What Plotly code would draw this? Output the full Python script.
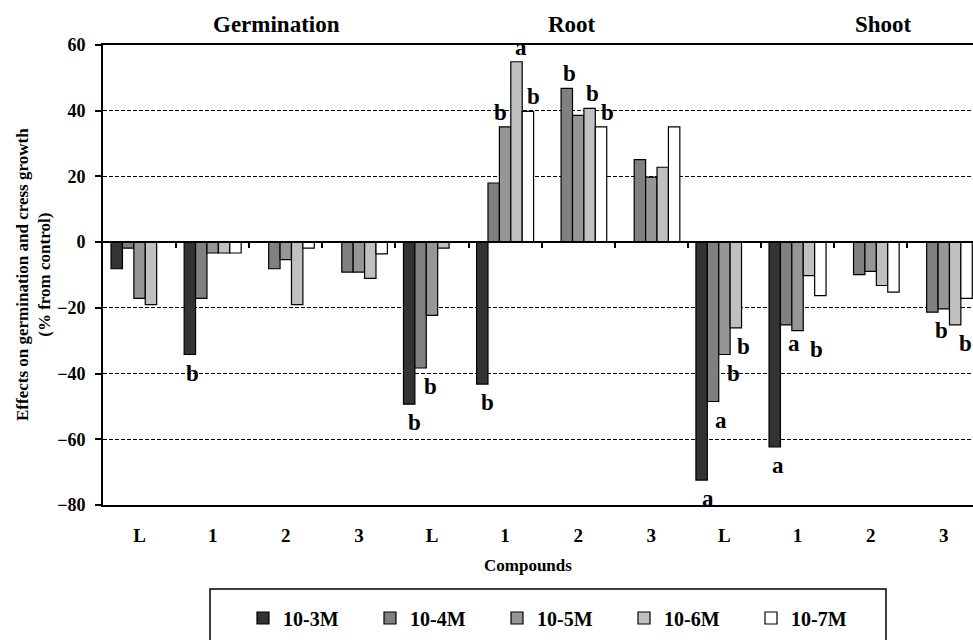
import plotly.graph_objects as go

# ---------------- data ----------------
categories = ["L", "1", "2", "3", "L", "1", "2", "3", "L", "1", "2", "3"]
sections = ["Germination", "Root", "Shoot"]
series_names = ["10-3M", "10-4M", "10-5M", "10-6M", "10-7M"]

v_1e3 = [-8.1, -34.2, None, None, -49.3, -43.2, None, None, -72.4, -62.3, None, None]
v_1e4 = [-1.8, -17.1, -8.1, -9.1, -38.3, 18.0, 46.8, 25.1, -48.5, -25.2, -9.9, -21.3]
v_1e5 = [-17.1, -3.3, -5.3, -9.1, -22.3, 35.1, 38.6, 19.8, -34.2, -26.9, -8.9, -20.3]
v_1e6 = [-19.0, -3.3, -19.0, -11.0, -1.8, 54.9, 40.7, 22.8, -26.1, -10.2, -13.2, -25.2]
v_1e7 = [None, -3.3, -1.8, -3.6, None, 39.8, 35.1, 35.1, None, -16.3, -15.2, -17.1]

# significance letters: (group index, series index, letter)
sig_labels = [
    (1, 0, "b"),
    (4, 0, "b"), (4, 1, "b"),
    (5, 0, "b"), (5, 2, "b"), (5, 3, "a"), (5, 4, "b"),
    (6, 1, "b"), (6, 3, "b"), (6, 4, "b"),
    (8, 0, "a"), (8, 1, "a"), (8, 2, "b"), (8, 3, "b"),
    (9, 0, "a"), (9, 1, "a"), (9, 2, "b"),
    (11, 1, "b"), (11, 3, "b"),
]
# horizontal nudges (px) of the letters, styling only
sig_dx = [3, 5, 10, 5, -5, 4, 6, 3, 3, 6, 6, 8, 9, 8, 3, 8, 19, 9, 10]

# ---------------- style ----------------
FONT = "Liberation Serif"
colors = ["#333333", "#808080", "#969696", "#c0c0c0", "#ffffff"]
all_values = [v_1e3, v_1e4, v_1e5, v_1e6, v_1e7]
BARGAP = 0.22
NSER = len(series_names)
bw = (1 - BARGAP) / NSER

xs = list(range(len(categories)))
fig = go.Figure()
for name, vals, col in zip(series_names, all_values, colors):
    fig.add_trace(go.Bar(
        x=xs, y=vals, name=name,
        marker=dict(color=col, line=dict(color="#000000", width=1.2)),
    ))

# dummy trace for the zero-crossing axis with tick marks
fig.add_trace(go.Scatter(x=[], y=[], xaxis="x2", showlegend=False, hoverinfo="skip"))

x_range = [-0.5, 11.4]
annotations = []
for (g, s, letter), dx in zip(sig_labels, sig_dx):
    v = all_values[s][g]
    xpos = g + (s - (NSER - 1) / 2) * bw
    if v < 0:
        annotations.append(dict(x=xpos, y=v, text=letter, showarrow=False,
                                xanchor="center", yanchor="top", yshift=-4, xshift=dx,
                                font=dict(family=FONT, size=23, color="#000", weight="bold")))
    else:
        annotations.append(dict(x=xpos, y=v, text=letter, showarrow=False,
                                xanchor="center", yanchor="bottom", yshift=0, xshift=dx,
                                font=dict(family=FONT, size=23, color="#000", weight="bold")))

# section titles
for title, xp in zip(sections, [1.87, 5.92, 10.17]):
    annotations.append(dict(x=xp, xref="x", y=1.045, yref="paper", text=title,
                            showarrow=False, xanchor="center", yanchor="middle",
                            font=dict(family=FONT, size=23, color="#000", weight="bold")))

# axis titles
annotations.append(dict(x=(528 - 103) / 870, xref="paper", y=(505 - 565) / 460, yref="paper",
                        text="Compounds", showarrow=False, xanchor="center", yanchor="middle",
                        font=dict(family=FONT, size=17, color="#000", weight="bold")))
annotations.append(dict(x=(33 - 103) / 870, xref="paper", y=0.5, yref="paper",
                        text="Effects on germination and cress growth<br>(% from control)",
                        textangle=-90, showarrow=False, xanchor="center", yanchor="middle",
                        font=dict(family=FONT, size=17, color="#000", weight="bold")))

fig.update_layout(
    width=973, height=640,
    margin=dict(l=103, r=0, t=45, b=135, pad=0, autoexpand=False),
    paper_bgcolor="white", plot_bgcolor="white",
    barmode="group", bargap=BARGAP, bargroupgap=0,
    font=dict(family=FONT, color="#000"),
    xaxis=dict(
        range=x_range, tickmode="array", tickvals=xs, ticktext=categories,
        showline=True, mirror=True, linecolor="#000", linewidth=1.5,
        ticks="", showgrid=False, zeroline=False, ticklabelstandoff=12,
        tickfont=dict(family=FONT, size=19, color="#000", weight="bold"),
    ),
    xaxis2=dict(
        range=x_range, overlaying="x", anchor="free", position=80 / 140, side="bottom",
        tickmode="array", tickvals=[i + 0.5 for i in range(11)],
        ticks="outside", ticklen=5, tickwidth=1.5, tickcolor="#000",
        showticklabels=False, showline=True, linecolor="#000", linewidth=2,
        showgrid=False, zeroline=False,
    ),
    yaxis=dict(
        range=[-80, 60], tickmode="linear", tick0=-80, dtick=20,
        showline=True, linecolor="#000", linewidth=2,
        ticks="outside", ticklen=6, tickwidth=1.5, tickcolor="#000",
        showgrid=True, gridcolor="#000", gridwidth=1, griddash="4px,2px",
        zeroline=False, ticklabelstandoff=6,
        tickfont=dict(family=FONT, size=18, color="#000", weight="bold"),
    ),
    legend=dict(
        orientation="h", x=(243 - 103) / 870, xanchor="left",
        y=(505 - 618) / 460, yanchor="middle",
        entrywidth=82, entrywidthmode="pixels",
        bgcolor="rgba(0,0,0,0)", borderwidth=0,
        font=dict(family=FONT, size=20, color="#000", weight="bold"),
        traceorder="normal",
    ),
    shapes=[dict(type="rect", xref="paper", yref="paper",
                 x0=(210 - 103) / 870, x1=(886 - 103) / 870,
                 y0=(505 - 589) / 460, y1=(505 - 660) / 460,
                 line=dict(color="#000", width=1.5), fillcolor="rgba(0,0,0,0)")],
    annotations=annotations,
    showlegend=True,
)

fig.write_html("out.html")
